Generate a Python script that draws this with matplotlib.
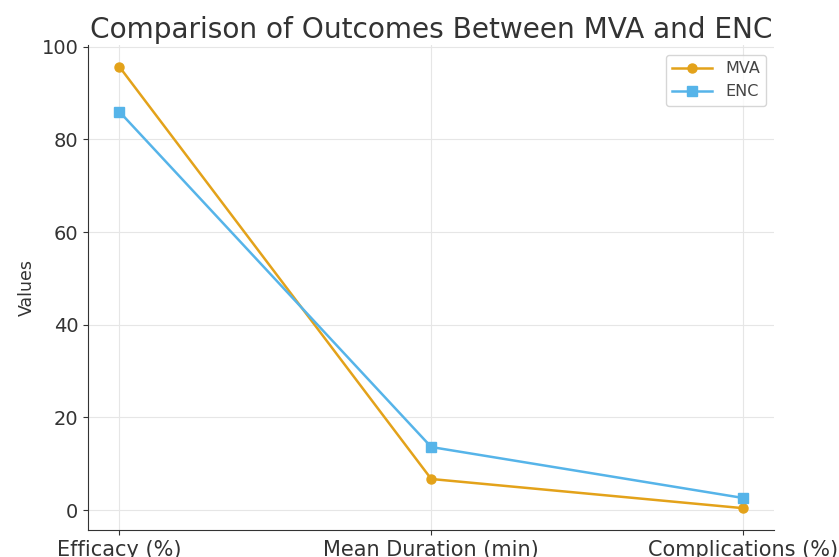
import matplotlib
matplotlib.use("Agg")
import matplotlib.pyplot as plt

categories = ["Efficacy (%)", "Mean Duration (min)", "Complications (%)"]
mva_values = [95.7, 6.7, 0.4]
enc_values = [86.0, 13.6, 2.6]

fig = plt.figure(figsize=(8.39, 5.57), dpi=100)
ax = fig.add_axes([0.105, 0.048, 0.818, 0.872])

ax.plot(categories, mva_values, marker="o", color="#E3A21A", linewidth=1.8, markersize=6.5, label="MVA")
ax.plot(categories, enc_values, marker="s", color="#56B4E9", linewidth=1.8, markersize=6.5, label="ENC")

ax.set_title("Comparison of Outcomes Between MVA and ENC", fontsize=20.2, color="#333333", pad=5)
ax.set_ylabel("Values", fontsize=12.5, color="#333333")
ax.tick_params(axis="x", labelsize=15, colors="#333333")
ax.tick_params(axis="y", labelsize=14, colors="#333333")
ax.grid(True, color="#e6e6e6", linewidth=0.8)
ax.set_axisbelow(True)
for s in ["top", "right"]:
    ax.spines[s].set_visible(False)
for s in ["left", "bottom"]:
    ax.spines[s].set_color("#333333")
leg = ax.legend(loc="upper right", fontsize=11.5, frameon=True, handlelength=2.5,
                bbox_to_anchor=(1.0, 0.995), labelcolor="#444444")
leg.get_frame().set_edgecolor("#cccccc")

fig.savefig("out.png", dpi=100)
